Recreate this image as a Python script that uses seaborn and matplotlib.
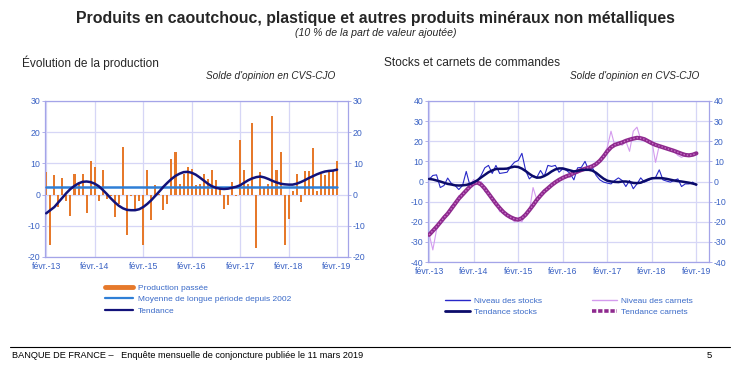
import matplotlib
matplotlib.use("Agg")
import matplotlib.pyplot as plt
import seaborn as sns
import pandas as pd
from matplotlib.lines import Line2D

# ---------------- data ----------------
year_labels = ["févr.-13", "févr.-14", "févr.-15", "févr.-16", "févr.-17", "févr.-18", "févr.-19"]

# monthly, Feb-2013 .. Feb-2019 (73 values)
production = [
    7.2, -16, 6.3, -4, 5.2, -2, -6.8, 6.7, 4, 6.5, -6,
    10.8, 9, -2, 7.8, -1.5, -0.5, -7.2, -3, 15.2, -12.8, -0.5, -4.5,
    -2, -16, 7.8, -8.2, 3.2, 0.3, -5, -3, 11.4, 13.6, 3.5, 6.5,
    9, 8.2, 3, 3.5, 6.7, 5, 8, 4.8, 2, -4.5, -3.2, 4,
    -0.5, 17.5, 7.8, 3.5, 23, -17, 7.2, 2, 3.5, 25.2, 7.8, 13.8,
    -16.3, -7.8, 1, 6.5, -2.5, 7.7, 7.7, 15, 1, 6.5, 6.2, 7.4,
    7.7, 10.8,
]
production_trend = [
    -6.0, -5.0, -4.0, -2.5, -1.0, 0.5, 1.8, 2.8, 3.6, 4.1, 4.2,
    4.0, 3.5, 2.7, 1.5, 0.2, -1.2, -2.5, -3.6, -4.4, -4.9, -5.0, -5.0,
    -4.7, -4.0, -3.0, -1.8, -0.4, 1.0, 2.5, 3.8, 5.0, 6.0, 6.7, 7.2,
    7.3, 7.0, 6.4, 5.5, 4.5, 3.5, 2.7, 2.2, 1.9, 1.8, 1.9, 2.2,
    2.5, 3.0, 3.8, 4.6, 5.2, 5.6, 5.8, 5.5, 5.0, 4.4, 3.9, 3.5,
    3.3, 3.2, 3.2, 3.5, 4.0, 4.6, 5.3, 5.9, 6.5, 7.0, 7.4, 7.6,
    7.7, 8.0,
]
long_term_mean = 2.3

stocks_level = [
    1, 3, 3.3, -3, -2, 1.7, -1, -2, -4, -2, 5,
    -2, -1, 0.5, 3, 6.8, 8, 4, 8, 4, 4.3, 4.6, 7.5,
    9.6, 10.4, 14, 5.5, 1.3, 3, 2, 5.5, 2.5, 8, 7.5, 8,
    4.6, 6.3, 5.5, 4, 0.8, 6.8, 7, 10, 5.5, 6.8, 3, 0.8,
    -0.3, -0.8, -1.2, 0.5, 1.8, 0.5, -2.5, 0.5, -3.6, -1.2, 1.8, -0.3,
    0.5, 1.3, 2, 5.8, 0.8, 0.2, -0.3, 0.5, 1.3, -2.5, -1.2, -1.2,
    -0.3, -2,
]
stocks_trend = [
    1.3, 1.0, 0.5, 0.0, -0.6, -1.2, -1.5, -1.9, -2.0, -1.9, -1.7,
    -1.2, -0.4, 0.6, 2.0, 3.3, 4.6, 5.5, 6.2, 6.3, 6.3, 6.4, 7.0,
    7.4, 7.2, 6.4, 5.2, 3.8, 2.6, 1.9, 2.0, 2.7, 3.7, 5.0, 6.0,
    6.5, 6.5, 6.0, 5.5, 5.0, 5.3, 5.7, 5.8, 5.8, 5.4, 4.3, 2.8,
    1.4, 0.4, 0.0, -0.2, -0.3, 0.0, 0.0, -0.3, -0.7, -0.8, -0.6, 0.2,
    1.0, 1.6, 1.7, 1.7, 1.6, 1.3, 0.9, 0.5, 0.2, 0.0, -0.3, -0.6,
    -1.0, -1.5,
]
carnets_level = [
    -26, -34, -24, -21, -17, -16, -12, -12, -7, -7, -4,
    -2, 1, -1, 0, -5, -6, -9, -10, -15, -15, -17, -18,
    -20, -19, -20, -16, -15, -3, -9, -7, -4, -4, -2, 0,
    1, 2, 3, 2, 5, 4, 6, 7, 6, 8, 9, 10,
    13, 17, 25, 18, 19, 18, 20, 15, 25, 27, 21, 20,
    20, 20, 9.5, 18, 17, 16, 16, 15, 13, 12, 13, 13,
    13, 14,
]
carnets_trend = [
    -26.5, -24.5, -22.5, -20.3, -18, -16, -13.5, -11, -8.5, -6.5, -4.5,
    -2.5, -1.0, -0.5, -1.5, -3.5, -6.0, -8.5, -11, -13.2, -15.2, -16.7, -17.8,
    -18.6, -19, -18.2, -16.5, -14.2, -11.8, -9.2, -7, -5, -3.4, -1.8, -0.4,
    0.8, 1.8, 2.6, 3.3, 4.2, 5.0, 5.7, 6.3, 6.9, 7.6, 8.7, 10.3,
    12.5, 15.0, 17.0, 18.2, 18.8, 19.4, 20.2, 20.8, 21.3, 21.7, 21.5, 21.0,
    20.0, 19.0, 18.2, 17.6, 17.0, 16.4, 15.8, 15.2, 14.5, 13.8, 13.2, 13.0,
    13.3, 14.0,
]

# ---------------- style ----------------
sns.set_theme(style="white")
plt.rcParams["font.family"] = ["Liberation Sans", "DejaVu Sans"]
plt.rcParams["axes.unicode_minus"] = False

ORANGE = "#E6792B"
MEAN_BLUE = "#2F7FD6"
NAVY = "#12127A"
STOCK_BLUE = "#2828C8"
STOCK_NAVY = "#0B0B6A"
CARNET_LIGHT = "#D49BEE"
CARNET_PURPLE = "#8E2A8E"
TICK_BLUE = "#3A62C4"
SPINE = "#A4A4E8"
GRID = "#D6D6F6"
LEG_TEXT = "#3A6AC8"

n = len(production)
df_left = pd.DataFrame({
    "m": list(range(n)),
    "prod": production,
    "trend": production_trend,
    "mean": [long_term_mean] * n,
})
df_right = pd.DataFrame({
    "m": list(range(len(stocks_level))),
    "stocks": stocks_level,
    "stocks_trend": stocks_trend,
    "carnets": carnets_level,
    "carnets_trend": carnets_trend,
})

fig = plt.figure(figsize=(7.51, 3.72), dpi=100)
ax1 = fig.add_axes([45 / 751, 1 - 257 / 372, 303 / 751, 156 / 372])
ax2 = fig.add_axes([428 / 751, 1 - 262 / 372, 281 / 751, 161 / 372])


def style_ax(ax, xlim, ylim, yticks):
    ax.set_xlim(*xlim)
    ax.set_ylim(*ylim)
    ax.set_yticks(yticks)
    ax.set_xticks(list(range(0, 73, 12)))
    ax.set_xticklabels(year_labels)
    ax.grid(True, color=GRID, lw=0.9)
    ax.set_axisbelow(True)
    for s in ax.spines.values():
        s.set_color(SPINE)
        s.set_linewidth(0.9)
        s.set_visible(True)
    ax.tick_params(axis="both", labelsize=6.3, labelcolor=TICK_BLUE, color=SPINE)
    ax.tick_params(axis="y", left=True, right=True, labelleft=True, labelright=True,
                   length=2, width=0.6, pad=1.5, direction="out")
    ax.tick_params(axis="x", bottom=False, length=0, pad=3.5)
    ax.set_xlabel("")
    ax.set_ylabel("")


# ----- left chart -----
sns.barplot(data=df_left, x="m", y="prod", native_scale=True, color=ORANGE,
            saturation=1, width=0.5, errorbar=None, ax=ax1, linewidth=0, zorder=2)
sns.lineplot(data=df_left, x="m", y="mean", color=MEAN_BLUE, lw=1.8, ax=ax1, zorder=3)
sns.lineplot(data=df_left, x="m", y="trend", color=NAVY, lw=1.8, ax=ax1, zorder=4)
style_ax(ax1, (-0.3, 74.7), (-20, 30), [-20, -10, 0, 10, 20, 30])

# ----- right chart -----
sns.lineplot(data=df_right, x="m", y="carnets", color=CARNET_LIGHT, lw=0.8, ax=ax2, zorder=2)
sns.lineplot(data=df_right, x="m", y="stocks", color=STOCK_BLUE, lw=0.8, ax=ax2, zorder=3)
sns.lineplot(data=df_right, x="m", y="carnets_trend", color=CARNET_PURPLE, lw=3.0, ax=ax2, zorder=4)
sns.lineplot(data=df_right, x="m", y="carnets_trend", color="#C873C8", lw=1.0,
             linestyle=(0, (1, 1.4)), ax=ax2, zorder=5)
sns.lineplot(data=df_right, x="m", y="stocks_trend", color=STOCK_NAVY, lw=1.8, ax=ax2, zorder=6)
style_ax(ax2, (-0.3, 75.4), (-40, 40), [-40, -30, -20, -10, 0, 10, 20, 30, 40])

# ---------------- texts ----------------
fig.text(0.5, 1 - 18 / 372,
         "Produits en caoutchouc, plastique et autres produits minéraux non métalliques",
         ha="center", va="center", fontsize=11.4, fontweight="bold",
         family=["Liberation Sans Narrow", "Liberation Sans", "DejaVu Sans"])
fig.text(0.5, 1 - 33 / 372, "(10 % de la part de valeur ajoutée)",
         ha="center", va="center", fontsize=7.6, style="italic")

fig.text(22 / 751, 1 - 63 / 372, "Évolution de la production", ha="left", va="center", fontsize=8.6)
fig.text(335 / 751, 1 - 76 / 372, "Solde d'opinion en CVS-CJO", ha="right", va="center",
         fontsize=7.2, style="italic")
fig.text(384 / 751, 1 - 63 / 372, "Stocks et carnets de commandes", ha="left", va="center", fontsize=8.6)
fig.text(699 / 751, 1 - 76 / 372, "Solde d'opinion en CVS-CJO", ha="right", va="center",
         fontsize=7.2, style="italic")

# legends
h_left = [
    Line2D([], [], color=ORANGE, lw=3.5),
    Line2D([], [], color=MEAN_BLUE, lw=1.6),
    Line2D([], [], color=NAVY, lw=1.6),
]
lab_left = ["Production passée", "Moyenne de longue période depuis 2002", "Tendance"]
leg1 = fig.legend(h_left, lab_left, loc="upper left", bbox_to_anchor=(105 / 751, 1 - 284 / 372),
                  frameon=False, fontsize=6.0, handlelength=3.4, handletextpad=0.6,
                  labelspacing=0.45, borderaxespad=0, borderpad=0)
for t in leg1.get_texts():
    t.set_color(LEG_TEXT)

h_r1 = [Line2D([], [], color=STOCK_BLUE, lw=1.0), Line2D([], [], color=STOCK_NAVY, lw=2.0)]
leg2 = fig.legend(h_r1, ["Niveau des stocks", "Tendance stocks"], loc="upper left",
                  bbox_to_anchor=(445 / 751, 1 - 297 / 372), frameon=False, fontsize=6.0,
                  handlelength=3.0, handletextpad=0.5, labelspacing=0.45, borderaxespad=0, borderpad=0)
for t in leg2.get_texts():
    t.set_color(LEG_TEXT)
h_r2 = [Line2D([], [], color=CARNET_LIGHT, lw=1.0),
        Line2D([], [], color=CARNET_PURPLE, lw=2.6, linestyle=(0, (1.2, 0.5)))]
leg3 = fig.legend(h_r2, ["Niveau des carnets", "Tendance carnets"], loc="upper left",
                  bbox_to_anchor=(592 / 751, 1 - 297 / 372), frameon=False, fontsize=6.0,
                  handlelength=3.0, handletextpad=0.5, labelspacing=0.45, borderaxespad=0, borderpad=0)
for t in leg3.get_texts():
    t.set_color(LEG_TEXT)

# footer
fig.add_artist(Line2D([10 / 751, 730 / 751], [1 - 347 / 372, 1 - 347 / 372],
                      color="black", lw=0.8))
fig.text(12 / 751, 1 - 356 / 372,
         "BANQUE DE FRANCE –   Enquête mensuelle de conjoncture publiée le 11 mars 2019",
         ha="left", va="center", fontsize=6.6, color="black")
fig.text(707 / 751, 1 - 356 / 372, "5", ha="left", va="center", fontsize=6.8, color="black")

fig.savefig("out.png", dpi=100)
